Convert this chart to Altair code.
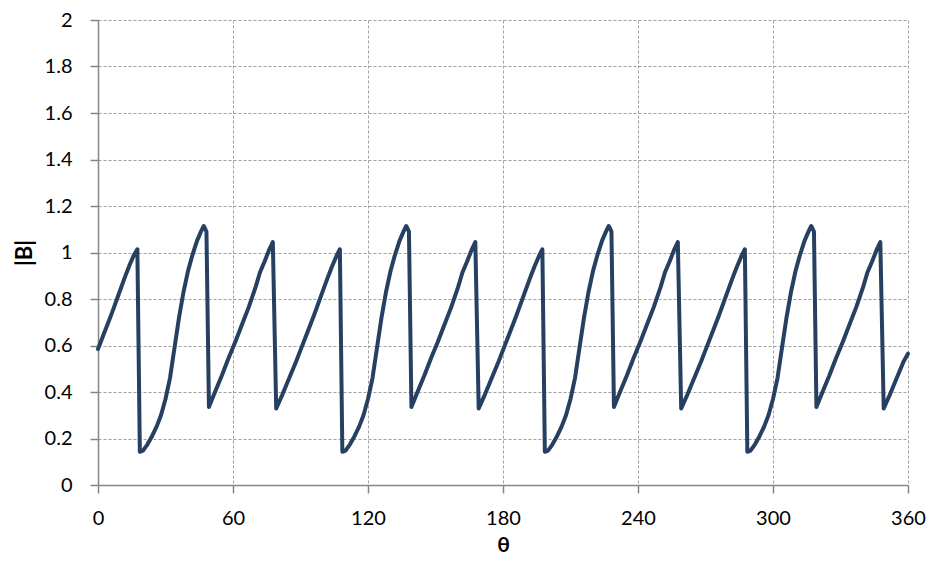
import altair as alt
import pandas as pd

# angle (degrees)
theta_deg = [
    0, 3, 6, 9, 12, 14, 16, 17.5, 18.6, 20, 22, 24, 26, 28, 30, 32, 34, 36, 38, 40, 42, 44, 46, 47, 48.2,
    49.3, 52, 55, 58, 61, 64, 67, 70, 72, 74, 76, 77.7, 79.2, 82, 85, 88,
    90, 93, 96, 99, 102, 104, 106, 107.5, 108.6, 110, 112, 114, 116, 118, 120, 122, 124, 126, 128, 130, 132, 134, 136, 137, 138.2,
    139.3, 142, 145, 148, 151, 154, 157, 160, 162, 164, 166, 167.7, 169.2, 172, 175, 178,
    180, 183, 186, 189, 192, 194, 196, 197.5, 198.6, 200, 202, 204, 206, 208, 210, 212, 214, 216, 218, 220, 222, 224, 226, 227, 228.2,
    229.3, 232, 235, 238, 241, 244, 247, 250, 252, 254, 256, 257.7, 259.2, 262, 265, 268,
    270, 273, 276, 279, 282, 284, 286, 287.5, 288.6, 290, 292, 294, 296, 298, 300, 302, 304, 306, 308, 310, 312, 314, 316, 317, 318.2,
    319.3, 322, 325, 328, 331, 334, 337, 340, 342, 344, 346, 347.7, 349.2, 352, 355, 358, 360,
]

# |B| values
b_mag = [
    0.585, 0.66, 0.735, 0.815, 0.895, 0.945, 0.99, 1.014, 0.143, 0.148, 0.175, 0.21, 0.25, 0.30, 0.37, 0.46, 0.59, 0.72, 0.83, 0.92, 0.99, 1.05, 1.095, 1.114, 1.09,
    0.336, 0.40, 0.47, 0.545, 0.615, 0.69, 0.765, 0.85, 0.915, 0.96, 1.01, 1.045, 0.329, 0.39, 0.46, 0.53,
    0.58, 0.655, 0.73, 0.81, 0.89, 0.94, 0.985, 1.014, 0.143, 0.148, 0.175, 0.21, 0.25, 0.30, 0.37, 0.46, 0.59, 0.72, 0.83, 0.92, 0.99, 1.05, 1.095, 1.114, 1.09,
    0.336, 0.40, 0.47, 0.545, 0.615, 0.69, 0.765, 0.85, 0.915, 0.96, 1.01, 1.045, 0.329, 0.39, 0.46, 0.53,
    0.58, 0.655, 0.73, 0.81, 0.89, 0.94, 0.985, 1.014, 0.143, 0.148, 0.175, 0.21, 0.25, 0.30, 0.37, 0.46, 0.59, 0.72, 0.83, 0.92, 0.99, 1.05, 1.095, 1.114, 1.09,
    0.336, 0.40, 0.47, 0.545, 0.615, 0.69, 0.765, 0.85, 0.915, 0.96, 1.01, 1.045, 0.329, 0.39, 0.46, 0.53,
    0.58, 0.655, 0.73, 0.81, 0.89, 0.94, 0.985, 1.014, 0.143, 0.148, 0.175, 0.21, 0.25, 0.30, 0.37, 0.46, 0.59, 0.72, 0.83, 0.92, 0.99, 1.05, 1.095, 1.114, 1.09,
    0.336, 0.40, 0.47, 0.545, 0.615, 0.69, 0.765, 0.85, 0.915, 0.96, 1.01, 1.045, 0.329, 0.39, 0.46, 0.53, 0.565,
]

x_ticks = [0, 60, 120, 180, 240, 300, 360]
y_ticks = [0, 0.2, 0.4, 0.6, 0.8, 1.0, 1.2, 1.4, 1.6, 1.8, 2.0]

df = pd.DataFrame({"theta": theta_deg, "B": b_mag, "order": list(range(len(theta_deg)))})

FONT = "Lato"
AXIS_GRAY = "#868686"
GRID_GRAY = "#a0a0a0"

x_axis = alt.Axis(
    values=x_ticks, grid=True, gridDash=[3, 2], gridColor=GRID_GRAY, gridWidth=1,
    domainColor=AXIS_GRAY, domainWidth=1.5, tickColor=AXIS_GRAY, tickWidth=1.5, tickSize=8,
    labelFont=FONT, labelFontSize=20, labelColor="black", labelPadding=15, labelFlush=False,
    title="θ", titleFont=FONT, titleFontSize=21, titleFontWeight="bold", titleColor="black",
    titleY=60, titleBaseline="middle",
)
y_axis = alt.Axis(
    values=y_ticks, grid=True, gridDash=[3, 2], gridColor=GRID_GRAY, gridWidth=1,
    domainColor=AXIS_GRAY, domainWidth=1.5, tickColor=AXIS_GRAY, tickWidth=1.5, tickSize=8,
    labelFont=FONT, labelFontSize=20, labelColor="black", labelPadding=18, labelFlush=False,
    format=".1~f",
    title="|B|", titleFont=FONT, titleFontSize=22, titleFontWeight="bold", titleColor="black",
    titleX=-74, titleY=232.5, titleAngle=-90, titleBaseline="middle", titleAlign="center",
)

chart = (
    alt.Chart(df)
    .mark_line(color="#254061", strokeWidth=4, strokeJoin="round", strokeCap="round")
    .encode(
        x=alt.X("theta:Q", scale=alt.Scale(domain=[0, 360], nice=False, zero=False), axis=x_axis),
        y=alt.Y("B:Q", scale=alt.Scale(domain=[0, 2], nice=False), axis=y_axis),
        order="order:Q",
    )
    .properties(
        width=810, height=465,
        autosize=alt.AutoSizeParams(type="none"),
        padding={"left": 90, "top": 12, "right": 18, "bottom": 70},
        background="white",
    )
    .configure_view(stroke=None)
)

chart.save("out.html", embed_options={"renderer": "svg", "actions": False})
